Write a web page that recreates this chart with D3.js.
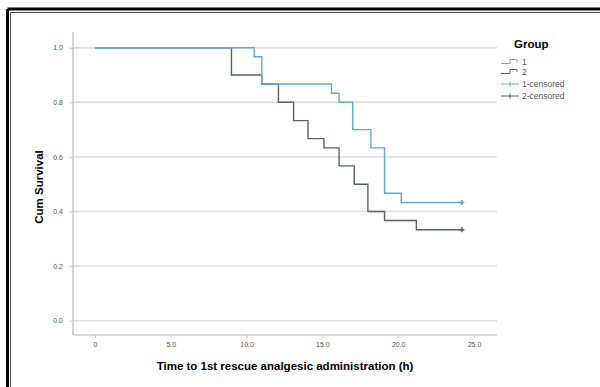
<!DOCTYPE html>
<html><head><meta charset="utf-8">
<script src="https://cdn.jsdelivr.net/npm/d3@7"></script>
<style>body{margin:0;background:#fff}svg{display:block}text{font-family:"Liberation Sans",Arial,sans-serif}</style>
</head><body>
<svg id="c" width="600" height="387"></svg>
<script>
const times1 = [0, 10.5, 11, 15.6, 16.1, 17, 18.2, 19.1, 20.2];
const surv1  = [1, 0.967, 0.867, 0.833, 0.8, 0.7, 0.633, 0.467, 0.433];
const times2 = [0, 9, 11, 12.1, 13.1, 14.05, 15.1, 16.1, 17.1, 18, 19.1, 21.2];
const surv2  = [1, 0.9, 0.867, 0.8, 0.733, 0.667, 0.633, 0.567, 0.5, 0.4, 0.367, 0.333];
const censorTimes = [24.2, 24.2];
const xTicks = [0, 5, 10, 15, 20, 25];
const xTickLabels = ["0", "5.0", "10.0", "15.0", "20.0", "25.0"];
const yTicks = [0, 0.2, 0.4, 0.6, 0.8, 1.0];
const legendLabels = ["1", "2", "1-censored", "2-censored"];
const colors = ["#62a8de", "#56655f"];

const svg = d3.select("#c");
// frame (top and left only)
svg.append("line").attr("x1",7.5).attr("x2",600).attr("y1",9).attr("y2",9).attr("stroke","#000").attr("stroke-width",3);
svg.append("line").attr("x1",7.5).attr("x2",7.5).attr("y1",9).attr("y2",387).attr("stroke","#000").attr("stroke-width",3);
svg.append("line").attr("x1",10.5).attr("x2",600).attr("y1",12.5).attr("y2",12.5).attr("stroke","#444").attr("stroke-width",1);
svg.append("line").attr("x1",10.5).attr("x2",10.5).attr("y1",12.5).attr("y2",387).attr("stroke","#444").attr("stroke-width",1);

const x = d3.scaleLinear().domain([0,25]).range([95,474]);
const y = d3.scaleLinear().domain([0,1]).range([320.7,47.7]);
const L = 73, R = 497, T = 32, B = 335;

// gridlines
svg.append("g").selectAll("line").data(yTicks).join("line")
  .attr("x1",L).attr("x2",R).attr("y1",d=>y(d)).attr("y2",d=>y(d))
  .attr("stroke","#dcdcdc").attr("stroke-width",1.5);

// axes
const ya = svg.append("g").attr("transform",`translate(${L},0)`)
  .call(d3.axisLeft(y).tickValues(yTicks).tickFormat(d3.format(".1f")).tickSize(4).tickSizeOuter(0));
const xa = svg.append("g").attr("transform",`translate(0,${B})`)
  .call(d3.axisBottom(x).tickValues(xTicks).tickFormat((d,i)=>xTickLabels[i]).tickSize(3).tickSizeOuter(0));
[ya,xa].forEach(a=>{
  a.select(".domain").remove();
  a.selectAll(".tick line").attr("stroke","#c8c8c8");
  a.selectAll(".tick text").attr("fill","#555").style("font-size","7px");
});
xa.selectAll(".tick text").attr("dy","0.9em").attr("y",6);
ya.selectAll(".tick text").attr("x",-10);
svg.append("line").attr("x1",L).attr("x2",L).attr("y1",T).attr("y2",B).attr("stroke","#b8b8b8").attr("stroke-width",1.2);
svg.append("line").attr("x1",L).attr("x2",R).attr("y1",B).attr("y2",B).attr("stroke","#b8b8b8").attr("stroke-width",1.2);

// curves
const line = d3.line().x(d=>x(d[0])).y(d=>y(d[1])).curve(d3.curveStepAfter);
const series = [
  {t:times1, s:surv1, c:colors[0], end:censorTimes[0]},
  {t:times2, s:surv2, c:colors[1], end:censorTimes[1]}
];
series.slice().reverse().forEach(sr=>{
  const pts = sr.t.map((t,i)=>[t, sr.s[i]]);
  pts.push([sr.end, sr.s[sr.s.length-1]]);
  svg.append("path").attr("d",line(pts)).attr("fill","none").attr("stroke",sr.c).attr("stroke-width",1.4);
  const cx = x(sr.end), cy = y(sr.s[sr.s.length-1]);
  svg.append("path").attr("d",`M${cx-2.5},${cy}H${cx+2.5}M${cx},${cy-2.5}V${cy+2.5}`)
    .attr("stroke",sr.c).attr("stroke-width",1.4);
  svg.append("circle").attr("cx",cx).attr("cy",cy).attr("r",1.6).attr("fill",sr.c);
});

// axis titles
svg.append("text").attr("x",285).attr("y",370).attr("text-anchor","middle")
  .style("font-size","11.5px").style("font-weight","bold").text("Time to 1st rescue analgesic administration (h)");
svg.append("text").attr("transform","translate(43,187) rotate(-90)").attr("text-anchor","middle")
  .style("font-size","11.5px").style("font-weight","bold").text("Cum Survival");

// legend
const lg = svg.append("g");
lg.append("text").attr("x",514).attr("y",48).style("font-size","11.5px").style("font-weight","bold").text("Group");
const ly = [62, 72, 84, 96];
legendLabels.forEach((lab,i)=>{
  const yy = ly[i], c = colors[i%2];
  if(i<2){
    lg.append("path").attr("d",`M501,${yy+1.5}H510V${yy-2.5}H517V${yy}`).attr("fill","none").attr("stroke",c).attr("stroke-width",1);
  } else {
    lg.append("path").attr("d",`M501,${yy}H519M510,${yy-2.5}V${yy+2.5}`).attr("fill","none").attr("stroke",c).attr("stroke-width",1);
  }
  lg.append("text").attr("x",522).attr("y",yy+3).style("font-size","8.5px").attr("fill","#555").text(lab);
});
</script>
</body></html>
